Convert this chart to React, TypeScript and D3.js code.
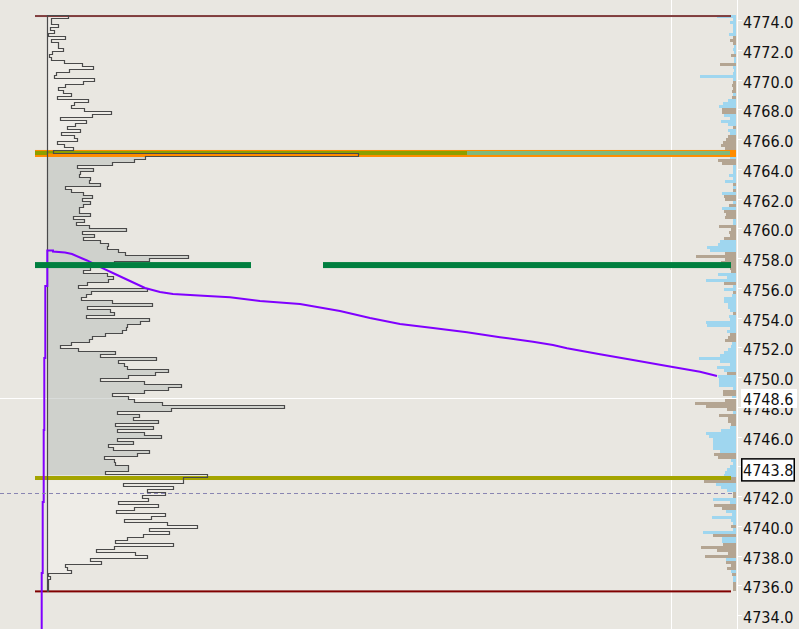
import React from 'react';
import * as d3 from 'd3';

const W = 799;
const H = 629;

// price axis
const PRICE_MIN = 4734;
const PRICE_MAX = 4774;
const axisTicks = d3.range(4734, 4775, 2);

// profile rows (0.2 per row, from the session high downward)
const ROW_TOP = 4774.3;
const ROW_STEP = 0.2;
const profileVolumes = [
  210, 40, 40, 110, 30, 70, 10, 180, 40, 110, 110,
  160, 50, 20, 40, 170, 350, 460, 220, 90, 70,
  470, 360, 180, 110, 160, 240, 100, 410, 270, 240,
  370, 640, 450, 130, 390, 280, 200, 330, 140, 270,
  300, 100, 170, 260, 60, 3110, 980,
  870, 650, 300, 460, 330, 320, 430, 420, 530, 180,
  240, 360, 450, 350, 430, 360, 320, 320, 430, 260,
  370, 290, 420, 790, 350, 470, 360, 530, 610, 600,
  710, 780, 1410, 1020, 670, 400, 430, 360, 600, 660,
  610, 400, 310, 1000, 440, 390, 340, 650, 1050, 400,
  630, 670, 390, 1020, 930, 800, 790, 750, 580, 450,
  420, 240, 130, 310, 680, 530, 1090, 710, 770, 800,
  1210, 1080, 810, 530, 970, 1340, 1210, 970, 650, 810,
  870, 1150, 2370, 1240, 700, 920, 860, 1110, 680, 1060,
  700, 970, 1140, 700, 860, 610, 660, 1020, 900, 570,
  670, 680, 810, 810, 580, 1600, 1360, 1360, 760, 1260,
  1000, 1180, 950, 1010, 710, 1110, 870, 690, 1180, 1040,
  770, 1200, 1500, 1020, 1220, 960, 800, 680, 1260, 670,
  490, 880, 1000, 430, 540, 180, 200, 240, 10, 30,
  10, 10, 10, 10,
];

// right-side delta histogram per row (positive = buy / blue, negative = sell / tan)
const deltaVolumes = [
  19, 3, 6, 3, 3, 3, 7, -3, -6, -3,
  2, 3, 2, -5, 2, 2, -16, 3, 2, 3,
  36, 3, -3, -4, -3, -4, 3, -4, 8, 13,
  17, -14, -14, 12, 6, 15, 8, -3, 8, 6,
  -8, -10, -13, -15, -11, -9, 26, 6, -18, -14,
  3, 3, 3, 7, 3, 11, -3, 3, -3, 14,
  -12, -11,
  3, -7, 14, -12, -10, -11, 3, 3, -17, -5,
  -7, -6, -12, 16, 18, 29, 26, -11, -40, -11,
  -15, -6, -6, -5, 18, 9, 30, -12, 3, 12,
  -3, 4, 12, 12, 8, 8, 6, -3, 7, 6,
  30, 29, 6, 9, -6, -8, -11, 4, 5, 8,
  12, 16, 37, 16, 6, 19, 12, -9, 18, 17,
  17, 17, 3, -13, -13, 4,
  -11, -41, -30, -9,
  3, -17, -8, -8, -5, 6, 15, 30, 27, 23,
  23, 23, 23, 16, -22, -18, 5, 3, 6, 9,
  11, 12, -55, -32, 20, 15, 9, -3, -3, 23,
  6, -22, -14, 10, 4, 24, 5, 3, -5, 3,
  33, -23, 14, 14, -13, -35, -19, -8, -31, 10,
  -10, -5, -9, 5, -4, 3, 3, -3, -3, -3,
];

// VWAP series (time index, price)
const vwapTimes = [
  6.7, 6.7, 7.7, 7.7, 8.7, 8.7, 9.3, 9.3, 10.3, 10.3, 12.3, 12.3,
  18, 18, 30, 37, 52, 68, 80, 95, 110, 125, 138, 168, 195, 225,
  265, 305, 335, 365, 398, 432, 465, 498, 518, 532, 565, 598, 632, 665, 682,
];
const vwapPrices = [
  4733.0, 4736.84, 4736.84, 4741.61, 4741.61, 4746.45, 4746.45, 4751.28, 4751.28, 4756.12, 4756.12, 4758.51,
  4758.51, 4758.44, 4758.37, 4758.27, 4757.84, 4757.31, 4756.93, 4756.46, 4755.99, 4755.72, 4755.59, 4755.47, 4755.36, 4755.12,
  4754.91, 4754.44, 4753.97, 4753.57, 4753.30, 4753.01, 4752.68, 4752.38, 4752.16, 4751.94, 4751.53, 4751.15, 4750.75, 4750.36, 4750.08,
];

// levels
const sessionHigh = 4774.3;
const sessionLow = 4735.6;
const orangeLevel = 4765.03;
const greenLevel = 4757.53;
const oliveLevel = 4743.22;
const dashedLevel = 4742.19;
const vaHigh = 4765.2;
const vaLow = 4743.4;
const crosshairPrice = 4748.6;
const crosshairTime = 635.5;
const lastPrice = 4743.8;
const greenSegments = [[0, 216], [288, 696]];
const levelStart = 0;
const levelEnd = 696;
const orangeEnd = 701;
const pocExtensionSplit = 432;
const profileStartTime = 12;

const BG = '#e9e7e1';
const FONT = '"DejaVu Sans Condensed", "DejaVu Sans", sans-serif';

export default function App() {
  const y = d3.scaleLinear().domain([PRICE_MIN, PRICE_MAX]).range([20 + 40 * 14.88, 20]);
  const t = d3.scaleLinear().domain([0, 700]).range([35, 735]);
  const base = t(profileStartTime);
  const px = d3.scaleLinear().domain([0, 2400]).range([base, base + 240]);
  const hx = d3.scaleLinear().domain([0, 60]).range([736, 676]);

  const r = (v: number) => Math.round(v) + 0.5;

  // rows are drawn on whole pixels, each row one rounded band tall
  const rowH = Math.round(y(ROW_TOP - ROW_STEP) - y(ROW_TOP));
  const topPx = Math.floor(y(ROW_TOP));
  const rowY = (i: number) => topPx + i * rowH;

  // profile outline path
  let d = `M${r(base)},${rowY(0) + 0.5}`;
  profileVolumes.forEach((v, i) => {
    const x = r(px(v));
    d += `L${x},${rowY(i) + 0.5}L${x},${rowY(i + 1) + 0.5}`;
  });
  d += `L${r(base)},${rowY(profileVolumes.length) + 0.5}Z`;

  const pocIndex = profileVolumes.indexOf(d3.max(profileVolumes) as number);

  const vwapLine = d3
    .line<number>()
    .x((_, i) => t(vwapTimes[i]))
    .y((p) => y(p))
    .curve(d3.curveLinear)(vwapPrices) as string;

  const bandY = (p: number, h: number) => y(p) - h / 2;

  return (
    <svg
      width={W}
      height={H}
      style={{ position: 'absolute', left: 0, top: 0, display: 'block' }}
      xmlns="http://www.w3.org/2000/svg"
    >
      <defs>
        <clipPath id="va">
          <rect x={0} y={y(vaHigh)} width={W} height={y(vaLow) - y(vaHigh)} />
        </clipPath>
      </defs>
      <rect x={0} y={0} width={W} height={H} fill={BG} />

      {/* delta histogram */}
      <g shapeRendering="crispEdges">
        {deltaVolumes.map((v, i) => {
          const x0 = Math.round(hx(Math.abs(v)));
          return (
            <rect
              key={i}
              x={x0}
              y={rowY(i)}
              width={736 - x0}
              height={rowH}
              fill={v >= 0 ? '#9fd6ef' : '#b4a592'}
            />
          );
        })}
      </g>

      {/* crosshair */}
      <line x1={0} x2={737} y1={r(y(crosshairPrice))} y2={r(y(crosshairPrice))} stroke="#ffffff" strokeWidth={1} />
      <line x1={r(t(crosshairTime))} x2={r(t(crosshairTime))} y1={0} y2={H} stroke="#ffffff" strokeWidth={1} />

      {/* profile fills */}
      <path d={d} fill="rgba(255,255,255,0.22)" stroke="none" />
      <path d={d} fill="rgba(165,172,168,0.42)" stroke="none" clipPath="url(#va)" />

      {/* orange level with POC extension */}
      <rect x={t(levelStart)} y={bandY(orangeLevel, 7)} width={t(orangeEnd) - t(levelStart)} height={7} fill="#ff8c00" />
      <rect x={t(levelStart)} y={bandY(orangeLevel, 4) - 0.5} width={t(pocExtensionSplit) - t(levelStart)} height={4} fill="#8c9f00" />
      <rect x={t(pocExtensionSplit)} y={bandY(orangeLevel, 4) - 0.5} width={t(levelEnd - 1) - t(pocExtensionSplit)} height={4} fill="#80b97c" />
      <rect
        x={r(base)}
        y={rowY(pocIndex) + 0.5}
        width={r(px(profileVolumes[pocIndex])) - r(base)}
        height={rowH}
        fill="#ff8c00"
      />

      {/* olive level */}
      <rect x={t(levelStart)} y={bandY(oliveLevel, 4)} width={t(levelEnd) - t(levelStart)} height={4} fill="#a4a400" />

      {/* session high / low */}
      <rect x={t(levelStart)} y={bandY(sessionHigh, 2) + 0.5} width={t(levelEnd) - t(levelStart)} height={2} fill="#813e3e" />
      <rect x={t(levelStart)} y={bandY(sessionLow, 2)} width={t(levelEnd) - t(levelStart)} height={2} fill="#800000" />

      {/* profile outline */}
      <path d={d} fill="none" stroke="#4a4a4a" strokeWidth={1.2} />

      {/* vwap */}
      <path d={vwapLine} fill="none" stroke="#8000ff" strokeWidth={2} />

      {/* green level */}
      {greenSegments.map(([a, b], i) => (
        <rect key={i} x={t(a)} y={bandY(greenLevel, 6)} width={t(b) - t(a)} height={6} fill="#007f3f" />
      ))}

      {/* dashed level */}
      <line
        x1={0}
        x2={735}
        y1={r(y(dashedLevel))}
        y2={r(y(dashedLevel))}
        stroke="#8985b2"
        strokeWidth={1}
        strokeDasharray="4,3"
      />

      {/* price axis */}
      <line x1={737.5} x2={737.5} y1={0} y2={H} stroke="#ffffff" strokeWidth={1} />
      {axisTicks.map((v) => (
        <g key={v}>
          <line x1={737} x2={742} y1={r(y(v))} y2={r(y(v))} stroke="#ffffff" strokeWidth={1} />
          <text
            x={743}
            y={y(v) + 2.5}
            dominantBaseline="central"
            fontFamily={FONT}
            fontSize={16}
            fill="#111111"
          >
            {v.toFixed(1)}
          </text>
        </g>
      ))}

      {/* crosshair price label */}
      <rect x={741} y={y(crosshairPrice) - 9} width={56} height={19} fill="#ffffff" />
      <text x={743} y={y(crosshairPrice) + 1.5} dominantBaseline="central" fontFamily={FONT} fontSize={16} fill="#111111">
        {crosshairPrice.toFixed(1)}
      </text>

      {/* last price label */}
      <rect x={741.75} y={y(lastPrice) - 10.5} width={52.5} height={22} fill="#ffffff" stroke="#000000" strokeWidth={1.5} />
      <text x={743} y={y(lastPrice) + 1} dominantBaseline="central" fontFamily={FONT} fontSize={16} fill="#111111">
        {lastPrice.toFixed(1)}
      </text>
    </svg>
  );
}
